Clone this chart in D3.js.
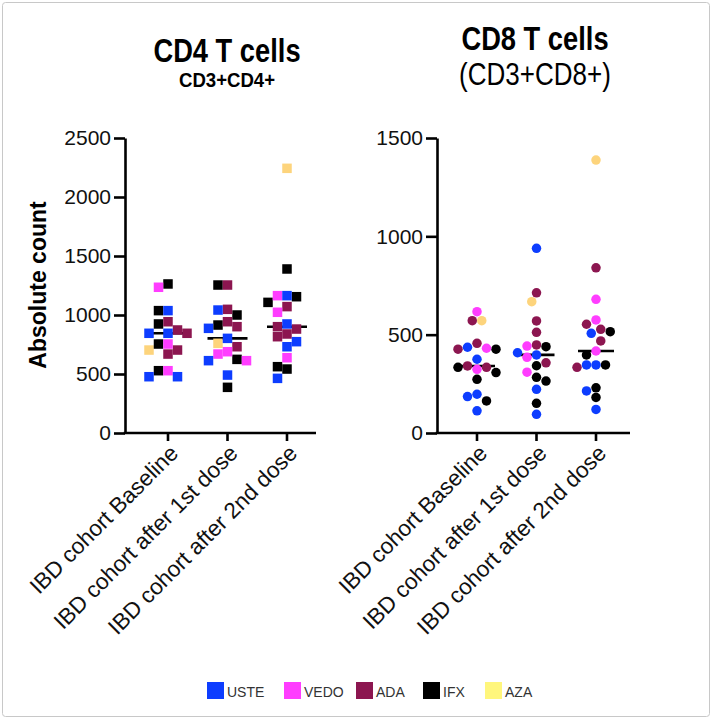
<!DOCTYPE html>
<html><head><meta charset="utf-8">
<script src="https://cdn.jsdelivr.net/npm/d3@7"></script>
<style>
body{margin:0;background:#fff}
svg{display:block}
text{font-family:"Liberation Sans",Arial,Helvetica,sans-serif}
</style>
</head><body>
<svg id="chart" width="713" height="720"></svg>
<script>
// ---------- DATA ----------
const groups = ["IBD cohort Baseline", "IBD cohort after 1st dose", "IBD cohort after 2nd dose"];
const drugs = ["USTE", "VEDO", "ADA", "IFX", "AZA"];
const cd4Ticks = [0, 500, 1000, 1500, 2000, 2500];
const cd8Ticks = [0, 500, 1000, 1500];

// CD4 (CD3+CD4+) absolute counts: one array per drug, one inner array per group
const cd4USTE = [[1037, 845, 845, 477, 477], [1042, 887, 802, 613, 491], [1164, 924, 774, 731, 463]];
const cd4VEDO = [[1235, 754, 528], [689, 669, 613], [1164, 1023, 638]];
const cd4ADA  = [[943, 873, 845, 703, 669], [1254, 1048, 943, 901, 731], [1071, 901, 881, 839, 816]];
const cd4IFX  = [[1263, 1037, 924, 754, 528], [1254, 1000, 915, 624, 387], [1390, 1155, 1107, 562, 542]];
const cd4AZA  = [[703], [760], [2243]];

// CD8 (CD3+CD8+) absolute counts
const cd8USTE = [[436, 375, 197, 185, 113], [939, 408, 397, 222, 95], [507, 346, 346, 214, 120]];
const cd8VEDO = [[617, 431, 324], [442, 385, 309], [680, 575, 417]];
const cd8ADA  = [[571, 456, 426, 341, 334], [713, 570, 512, 448, 357], [840, 553, 527, 468, 334]];
const cd8IFX  = [[426, 334, 307, 273, 163], [439, 342, 283, 264, 151], [515, 397, 346, 230, 181]];
const cd8AZA  = [[571], [668], [1388]];

// ---------- STYLE ----------
const drugColor = {USTE: "#0d3dff", VEDO: "#ff3dff", ADA: "#8c1650", IFX: "#000000", AZA: "#fdd47c"};
const legendColor = {USTE: "#0d3dff", VEDO: "#ff3dff", ADA: "#8c1650", IFX: "#000000", AZA: "#fff67c"};

const svg = d3.select("#chart");
svg.append("rect").attr("x", 2.5).attr("y", 2.5).attr("width", 707).attr("height", 714)
  .attr("rx", 3).attr("fill", "#fff").attr("stroke", "#c8c8c8").attr("stroke-width", 1);

function buildPoints(byDrug) {
  const pts = [];
  drugs.forEach(d => byDrug[d].forEach((vals, gi) => vals.forEach(v => pts.push({g: gi, drug: d, v}))));
  return pts;
}

function swarm(pts, y, size, round) {
  const placed = [];
  const sorted = pts.slice().sort((a, b) => b.v - a.v);
  const step = size / 2;
  for (const p of sorted) {
    p.py = y(p.v);
    let off = 0;
    for (let k = 0; k < 60; k++) {
      const cand = k === 0 ? 0 : (k % 2 ? -1 : 1) * Math.ceil(k / 2) * step;
      const ok = placed.every(q => {
        const dx = q.off - cand, dy = q.py - p.py;
        return round ? Math.hypot(dx, dy) >= size : (Math.abs(dx) >= size || Math.abs(dy) >= size);
      });
      if (ok) { off = cand; break; }
    }
    p.off = off;
    placed.push(p);
  }
}

function panel(cfg) {
  const g = svg.append("g");
  const y = d3.scaleLinear().domain([0, cfg.max]).range([433, 138]);
  const x = d3.scalePoint().domain(groups).range(cfg.xRange);

  // y axis
  const ya = g.append("g").attr("transform", `translate(${cfg.axisX},0)`)
    .call(d3.axisLeft(y).tickValues(cfg.ticks).tickSize(11).tickPadding(3).tickSizeOuter(0).tickFormat(d3.format("d")));
  ya.select(".domain").attr("stroke-width", 2.6).attr("stroke", "#000");
  ya.selectAll(".tick line").attr("stroke-width", 2.6).attr("stroke", "#000");
  ya.selectAll(".tick text").attr("font-size", 21).attr("fill", "#111")
    .attr("font-family", "Liberation Sans, Arial, sans-serif");

  // x axis
  g.append("line").attr("x1", cfg.axisX - 1.3).attr("x2", cfg.xEnd).attr("y1", 433).attr("y2", 433)
    .attr("stroke", "#000").attr("stroke-width", 2.6);
  groups.forEach(name => {
    g.append("line").attr("x1", x(name)).attr("x2", x(name)).attr("y1", 433).attr("y2", 441)
      .attr("stroke", "#000").attr("stroke-width", 2.6);
    g.append("text").attr("transform", `translate(${x(name) + 6},${449}) rotate(-45)`)
      .attr("text-anchor", "end").attr("dy", "0.35em")
      .attr("font-size", 22.5).attr("fill", "#111").text(name);
  });

  // points
  const pts = buildPoints(cfg.data);
  groups.forEach((name, gi) => {
    const gp = pts.filter(p => p.g === gi);
    swarm(gp, y, cfg.size, cfg.round);
    const med = d3.median(gp, p => p.v);
    g.append("line").attr("x1", x(name) - cfg.medW / 2).attr("x2", x(name) + cfg.medW / 2)
      .attr("y1", y(med)).attr("y2", y(med)).attr("stroke", "#000").attr("stroke-width", 2.6);
  });
  const order = ["AZA", "IFX", "ADA", "VEDO", "USTE"];
  const sortedPts = pts.slice().sort((a, b) => order.indexOf(a.drug) - order.indexOf(b.drug));
  if (cfg.round) {
    g.selectAll("circle.pt").data(sortedPts).join("circle").attr("class", "pt")
      .attr("cx", d => x(groups[d.g]) + d.off).attr("cy", d => d.py).attr("r", cfg.size / 2)
      .attr("fill", d => drugColor[d.drug]);
  } else {
    g.selectAll("rect.pt").data(sortedPts).join("rect").attr("class", "pt")
      .attr("x", d => x(groups[d.g]) + d.off - cfg.size / 2).attr("y", d => d.py - cfg.size / 2)
      .attr("width", cfg.size).attr("height", cfg.size)
      .attr("fill", d => drugColor[d.drug]);
  }

  // titles
  const cx = cfg.titleX;
  g.append("text").attr("transform", `translate(${cx},${cfg.t1y}) scale(0.84,1)`)
    .attr("text-anchor", "middle").attr("font-weight", "bold").attr("font-size", 32.5).text(cfg.title);
  g.append("text").attr("transform", `translate(${cx},${cfg.t2y}) scale(${cfg.subScale},1)`)
    .attr("text-anchor", "middle").attr("font-weight", cfg.subBold ? "bold" : "normal")
    .attr("font-size", cfg.subSize).text(cfg.subtitle);
}

panel({
  max: 2500, ticks: cd4Ticks, axisX: 125, xRange: [168, 287], xEnd: 316,
  data: {USTE: cd4USTE, VEDO: cd4VEDO, ADA: cd4ADA, IFX: cd4IFX, AZA: cd4AZA},
  size: 9.5, round: false, medW: 40,
  title: "CD4 T cells", subtitle: "CD3+CD4+", titleX: 227, t1y: 62, t2y: 87,
  subSize: 20, subBold: true, subScale: 0.93
});
panel({
  max: 1500, ticks: cd8Ticks, axisX: 437, xRange: [477, 596], xEnd: 630,
  data: {USTE: cd8USTE, VEDO: cd8VEDO, ADA: cd8ADA, IFX: cd8IFX, AZA: cd8AZA},
  size: 9.5, round: true, medW: 36,
  title: "CD8 T cells", subtitle: "(CD3+CD8+)", titleX: 535, t1y: 50, t2y: 85,
  subSize: 31, subBold: false, subScale: 0.84
});

// y axis title
svg.append("text").attr("transform", "translate(46,285) rotate(-90)")
  .attr("text-anchor", "middle").attr("font-weight", "bold").attr("font-size", 23).text("Absolute count");

// legend
const legendX = [207, 284, 356, 423, 485];
const lg = svg.append("g");
drugs.forEach((d, i) => {
  lg.append("rect").attr("x", legendX[i]).attr("y", 682).attr("width", 17).attr("height", 17).attr("fill", legendColor[d]);
  lg.append("text").attr("x", legendX[i] + 20).attr("y", 697).attr("font-size", 14)
    .attr("font-family", "Roboto, Liberation Sans, sans-serif").attr("fill", "#333").text(d);
});
</script>
</body></html>
